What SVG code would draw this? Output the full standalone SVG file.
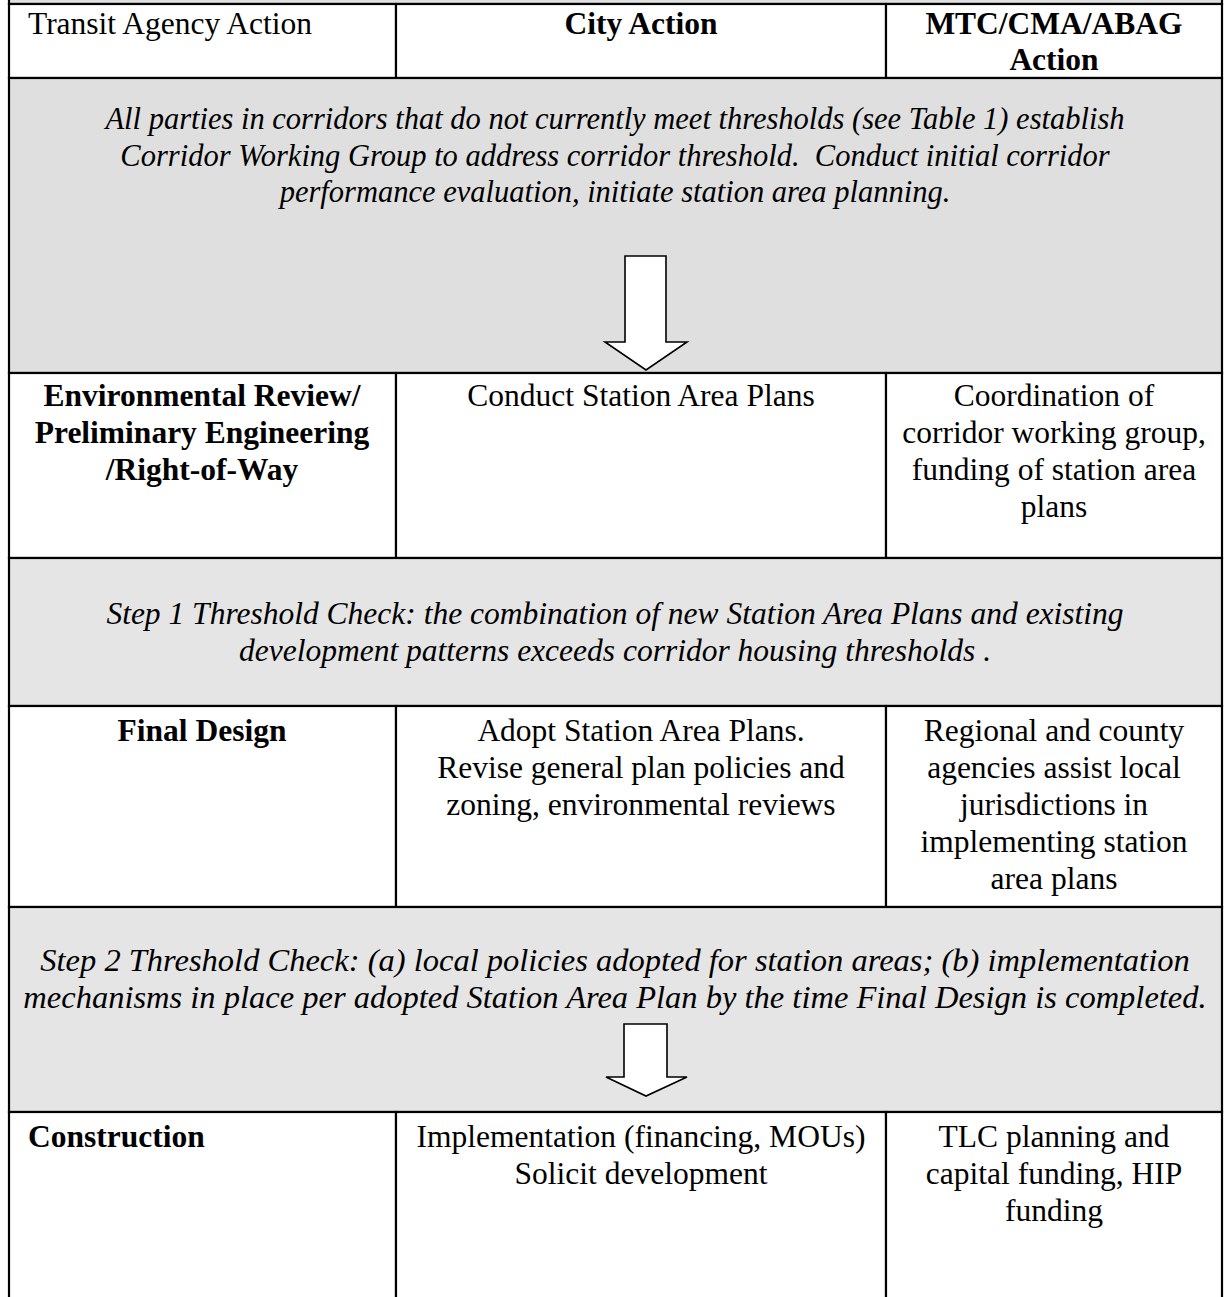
<svg xmlns="http://www.w3.org/2000/svg" width="1224" height="1297" viewBox="0 0 1224 1297">
<style>
.cell{stroke:#000;stroke-width:2.2}
.w{fill:#fff}
.g1{fill:#dfdfdf}
.g{fill:#e5e5e5}
text{font-family:"Liberation Serif","Times New Roman",serif;font-size:31.5px;fill:#000}
.b{font-weight:bold}
.i{font-style:italic}
.c{text-anchor:middle}
.p1{font-size:30.5px}
.p2{font-size:32.5px}
.arrow{fill:#fff;stroke:#000;stroke-width:1.6;stroke-linejoin:miter}
</style>
<rect x="0" y="0" width="1224" height="1297" fill="#fff"/>
<rect x="9" y="-10" width="1213" height="14" class="cell g1"/>
<g id="hdr-transit"><rect x="9" y="4" width="387" height="74" class="cell w"/><text x="28" y="34">Transit Agency Action</text></g>
<g id="hdr-city"><rect x="396" y="4" width="490" height="74" class="cell w"/><text x="641" y="34" class="b c">City Action</text></g>
<g id="hdr-mtc"><rect x="886" y="4" width="336" height="74" class="cell w"/><text x="1054" y="34" class="b c">MTC/CMA/ABAG</text><text x="1054" y="70" class="b c">Action</text></g>
<g id="step0"><rect x="9" y="78" width="1213" height="295" class="cell g1"/>
<text x="615" y="129" class="i c p1">All parties in corridors that do not currently meet thresholds (see Table 1) establish</text>
<text x="615" y="166" class="i c p1">Corridor Working Group to address corridor threshold.&#160; Conduct initial corridor</text>
<text x="615" y="202" class="i c p1">performance evaluation, initiate station area planning.</text></g>
<g id="er-transit"><rect x="9" y="373" width="387" height="185" class="cell w"/>
<text x="202" y="406" class="b c">Environmental Review/</text>
<text x="202" y="443" class="b c">Preliminary Engineering</text>
<text x="202" y="480" class="b c">/Right-of-Way</text></g>
<g id="er-city"><rect x="396" y="373" width="490" height="185" class="cell w"/>
<text x="641" y="406" class="c">Conduct Station Area Plans</text></g>
<g id="er-mtc"><rect x="886" y="373" width="336" height="185" class="cell w"/>
<text x="1054" y="406" class="c">Coordination of</text>
<text x="1054" y="443" class="c">corridor working group,</text>
<text x="1054" y="480" class="c">funding of station area</text>
<text x="1054" y="517" class="c">plans</text></g>
<g id="step1"><rect x="9" y="558" width="1213" height="148" class="cell g"/>
<text x="615" y="624" class="i c">Step 1 Threshold Check: the combination of new Station Area Plans and existing</text>
<text x="615" y="661" class="i c">development patterns exceeds corridor housing thresholds .</text></g>
<g id="fd-transit"><rect x="9" y="706" width="387" height="201" class="cell w"/>
<text x="202" y="741" class="b c">Final Design</text></g>
<g id="fd-city"><rect x="396" y="706" width="490" height="201" class="cell w"/>
<text x="641" y="741" class="c">Adopt Station Area Plans.</text>
<text x="641" y="778" class="c">Revise general plan policies and</text>
<text x="641" y="815" class="c">zoning, environmental reviews</text></g>
<g id="fd-mtc"><rect x="886" y="706" width="336" height="201" class="cell w"/>
<text x="1054" y="741" class="c">Regional and county</text>
<text x="1054" y="778" class="c">agencies assist local</text>
<text x="1054" y="815" class="c">jurisdictions in</text>
<text x="1054" y="852" class="c">implementing station</text>
<text x="1054" y="889" class="c">area plans</text></g>
<g id="step2"><rect x="9" y="907" width="1213" height="205" class="cell g"/>
<text x="615" y="971" class="i c p2">Step 2 Threshold Check: (a) local policies adopted for station areas; (b) implementation</text>
<text x="615" y="1008" class="i c p2">mechanisms in place per adopted Station Area Plan by the time Final Design is completed.</text></g>
<g id="con-transit"><rect x="9" y="1112" width="387" height="200" class="cell w"/>
<text x="28" y="1147" class="b">Construction</text></g>
<g id="con-city"><rect x="396" y="1112" width="490" height="200" class="cell w"/>
<text x="641" y="1147" class="c">Implementation (financing, MOUs)</text>
<text x="641" y="1184" class="c">Solicit development</text></g>
<g id="con-mtc"><rect x="886" y="1112" width="336" height="200" class="cell w"/>
<text x="1054" y="1147" class="c">TLC planning and</text>
<text x="1054" y="1184" class="c">capital funding, HIP</text>
<text x="1054" y="1221" class="c">funding</text></g>
<g id="connectors">
<polygon class="arrow" points="625,256 666,256 666,342 687,342 646,370 605,342 625,342"/>
<polygon class="arrow" points="624,1024 667,1024 667,1077 687,1077 646,1096 606,1077 624,1077"/>
</g>
</svg>
